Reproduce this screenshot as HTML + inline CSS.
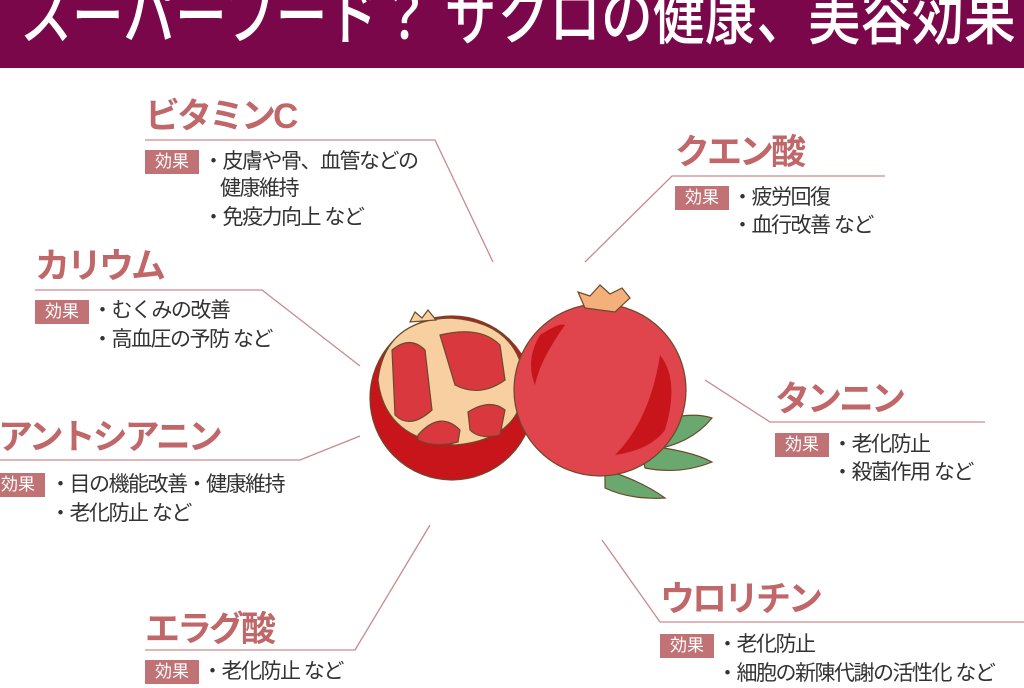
<!DOCTYPE html>
<html><head><meta charset="utf-8"><style>
body{margin:0;width:1024px;height:683px;overflow:hidden;background:#fff;position:relative;font-family:"Liberation Sans","Noto Sans CJK JP",sans-serif}
.bar{position:absolute;left:0;top:0;width:1024px;height:68px;background:#79074a}
.title{position:absolute;left:20px;top:-23px;color:#fff;font-size:64px;font-weight:500;letter-spacing:0;white-space:nowrap;line-height:80px;transform:scaleX(0.81);transform-origin:0 0}
.h{position:absolute;color:#c0676a;font-weight:700;font-size:35px;letter-spacing:-3px;white-space:nowrap;line-height:40px}
.b{position:absolute;background:#c07275;color:#fff;font-size:17px;width:54px;height:24px;line-height:24px;text-align:center}
.t{position:absolute;color:#333;font-size:21px;letter-spacing:-1.5px;white-space:nowrap;line-height:28px}
svg{position:absolute;left:0;top:0}
</style></head><body>
<div class="bar"></div>
<div class="title">スーパーフード？ ザクロの健康、美容効果</div>
<svg width="1024" height="683">
<g stroke="#c98a8c" stroke-width="1.3" fill="none">
<polyline points="145,140 435,140 493,262"/>
<polyline points="885,176 672,176 585,262"/>
<polyline points="35,290 262,290 360,366"/>
<polyline points="0,460 300,460 360,436"/>
<polyline points="145,650 355,650 430,525"/>
<polyline points="985,422 770,422 705,380"/>
<polyline points="1024,622 660,622 602,540"/>
</g>
<g stroke="#6b4a2a" stroke-width="1.2">
<path d="M640,425 Q690,410 712,418 Q690,445 650,450Z" fill="#6aa870"/>
<path d="M640,445 Q690,450 712,462 Q680,475 645,468Z" fill="#6aa870"/>
<path d="M605,470 Q640,480 665,498 Q630,500 605,488Z" fill="#6aa870"/>
<circle cx="452" cy="398" r="82" fill="#c8151c"/>
<path d="M378,380 Q385,320 450,318 Q520,322 525,385 Q520,440 455,445 Q385,440 378,380Z" fill="#f8cfa0"/>
<path d="M392,350 Q410,335 425,350 L432,410 Q410,430 395,415Z" fill="#d9383f"/>
<path d="M440,335 Q480,325 500,345 L505,380 Q480,398 455,385 Z" fill="#d9383f"/>
<path d="M418,435 Q440,410 460,430 L458,442 Q435,448 418,440Z" fill="#d9383f"/>
<path d="M468,412 Q490,398 505,410 L500,435 Q480,440 470,430Z" fill="#d9383f"/>
<path d="M410,322 L415,312 L422,318 L428,310 L436,320Z" fill="#f8cfa0"/>
<circle cx="600" cy="390" r="86" fill="#e0444c"/>
<path d="M585,308 L578,292 L590,296 L600,285 L610,294 L622,288 L630,298 L615,312Z" fill="#f4b07a"/>
<path d="M540,335 Q560,322 565,325 Q540,360 535,385 Q525,360 540,335Z" fill="#c8151c" stroke="none"/>
<path d="M660,355 Q680,380 665,430 Q650,450 615,455 Q650,420 660,355Z" fill="#c8151c" stroke="none"/>
</g>
</svg>
<div class="h" style="left:145px;top:97px">ビタミンC</div>
<div class="b" style="left:145px;top:150px">効果</div>
<div class="t" style="left:203px;top:148px">・皮膚や骨、血管などの</div>
<div class="t" style="left:220px;top:175px">健康維持</div>
<div class="t" style="left:203px;top:204px">・免疫力向上 など</div>

<div class="h" style="left:675px;top:133px">クエン酸</div>
<div class="b" style="left:675px;top:186px">効果</div>
<div class="t" style="left:732px;top:184px">・疲労回復</div>
<div class="t" style="left:732px;top:212px">・血行改善 など</div>

<div class="h" style="left:35px;top:247px">カリウム</div>
<div class="b" style="left:35px;top:300px">効果</div>
<div class="t" style="left:92px;top:297px">・むくみの改善</div>
<div class="t" style="left:92px;top:326px">・高血圧の予防 など</div>

<div class="h" style="left:-2px;top:418px">アントシアニン</div>
<div class="b" style="left:-9px;top:473px">効果</div>
<div class="t" style="left:50px;top:471px">・目の機能改善・健康維持</div>
<div class="t" style="left:50px;top:500px">・老化防止 など</div>

<div class="h" style="left:145px;top:610px">エラグ酸</div>
<div class="b" style="left:145px;top:660px">効果</div>
<div class="t" style="left:202px;top:658px">・老化防止 など</div>

<div class="h" style="left:775px;top:380px">タンニン</div>
<div class="b" style="left:775px;top:433px">効果</div>
<div class="t" style="left:832px;top:431px">・老化防止</div>
<div class="t" style="left:832px;top:459px">・殺菌作用 など</div>

<div class="h" style="left:660px;top:580px">ウロリチン</div>
<div class="b" style="left:660px;top:634px">効果</div>
<div class="t" style="left:717px;top:631px">・老化防止</div>
<div class="t" style="left:717px;top:660px">・細胞の新陳代謝の活性化 など</div>
</body></html>
